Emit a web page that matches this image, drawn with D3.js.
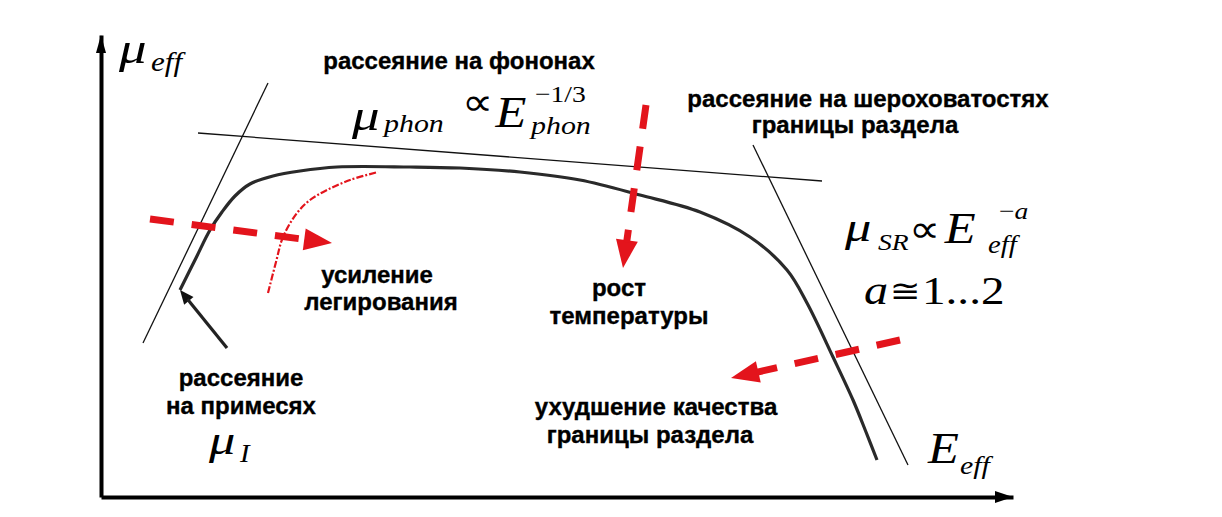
<!DOCTYPE html>
<html>
<head>
<meta charset="utf-8">
<script src="https://cdn.jsdelivr.net/npm/d3@7"></script>
<style>
  body { margin: 0; background: #fff; }
  .ru { font-family: "Liberation Sans", Arial, sans-serif; font-weight: bold; font-size: 24px; fill: #000; stroke: #000; stroke-width: 0.35px; }
  .m { font-family: "Liberation Serif", "Times New Roman", serif; font-style: italic; fill: #000; }
  .mu { font-family: "Liberation Serif", "DejaVu Serif", serif; fill: #000; }
  .sym { font-family: "DejaVu Sans", sans-serif; fill: #000; }
</style>
</head>
<body>
<div id="chart"></div>
<script>
// схема: подвижность от эффективного поля (значения в условных единицах от начала осей)

// основная кривая mu_eff(E_eff)
const curveE  = [79, 95, 109, 121, 134, 149, 172, 199, 236, 309, 359, 419, 479, 539, 599, 649, 686, 706, 732, 752, 765, 776];
const curveMu = [207, 239, 267, 285, 301, 313, 321, 326, 330, 330, 329, 325, 317, 302, 285, 260, 227, 194, 140, 97, 65, 37];

// асимптоты механизмов рассеяния
const phononLine   = [[97, 364], [721, 316]];
const impurityLine = [[42, 154], [167, 414]];
const roughLine    = [[652, 352], [807, 32]];

// стрелка-указатель к примесям
const impurityPointer = [[126, 149], [79, 207]];

// красные стрелки (пунктир + наконечник)
const dopingArrow  = [[49, 278], [231, 254]];
const tempArrow    = [[545, 392], [522, 229]];
const qualityArrow = [[799, 157], [630, 119]];

// штрихпунктирная кривая при легировании
const dopingE  = [167, 175, 182, 196, 209, 226, 249, 277];
const dopingMu = [204, 235, 260, 284, 297, 307, 317, 325];

// подписи
const labelPhonon  = ["рассеяние на фононах"];
const labelRough   = ["рассеяние на шероховатостях", "границы раздела"];
const labelDoping  = ["усиление", "легирования"];
const labelTemp    = ["рост", "температуры"];
const labelImpur   = ["рассеяние", "на примесях"];
const labelQuality = ["ухудшение качества", "границы раздела"];

const width = 1222, height = 517;
const red = "#e3141c";

const svg = d3.select("#chart").append("svg")
    .attr("width", width)
    .attr("height", height);

const x = d3.scaleLinear().domain([0, 912]).range([101, 1013]);
const y = d3.scaleLinear().domain([0, 462]).range([497, 35]);

// оси
svg.append("g")
    .attr("transform", `translate(0, ${y(0)})`)
    .call(d3.axisBottom(x).tickValues([]).tickSizeOuter(0))
    .select(".domain").attr("stroke", "#000").attr("stroke-width", 4);

svg.append("g")
    .attr("transform", `translate(${x(0)}, 0)`)
    .call(d3.axisLeft(y).tickValues([]).tickSizeOuter(0))
    .select(".domain").attr("stroke", "#000").attr("stroke-width", 4);

// наконечники
function head(tip, from, len, half, color) {
    const dx = tip[0] - from[0], dy = tip[1] - from[1];
    const d = Math.hypot(dx, dy), ux = dx / d, uy = dy / d;
    const bx = tip[0] - ux * len, by = tip[1] - uy * len;
    const pts = [tip, [bx - uy * half, by + ux * half], [bx + uy * half, by - ux * half]];
    svg.append("polygon")
        .attr("points", pts.map(p => p.join(",")).join(" "))
        .attr("fill", color);
    return [bx + ux * 2, by + uy * 2];
}
head([x(912), y(0)], [x(0), y(0)], 18, 6, "#000");
head([x(0), y(462)], [x(0), y(0)], 18, 5, "#000");

// тонкие асимптоты
const seg = d3.line().x(d => x(d[0])).y(d => y(d[1]));
[phononLine, impurityLine, roughLine].forEach(l => {
    svg.append("path")
        .attr("d", seg(l))
        .attr("fill", "none")
        .attr("stroke", "#111")
        .attr("stroke-width", 1.3);
});

// основная кривая
const curve = d3.line()
    .x(d => x(d[0])).y(d => y(d[1]))
    .curve(d3.curveCatmullRom.alpha(0.5));

svg.append("path")
    .datum(curveE.map((e, i) => [e, curveMu[i]]))
    .attr("d", curve)
    .attr("fill", "none")
    .attr("stroke", "#2a2a2a")
    .attr("stroke-width", 3.2);

// указатель к примесям
const pTip = [x(impurityPointer[1][0]), y(impurityPointer[1][1])];
const pFrom = [x(impurityPointer[0][0]), y(impurityPointer[0][1])];
const pBase = head(pTip, pFrom, 14, 6, "#111");
svg.append("line")
    .attr("x1", pFrom[0]).attr("y1", pFrom[1])
    .attr("x2", pBase[0]).attr("y2", pBase[1])
    .attr("stroke", "#222").attr("stroke-width", 3.2);

// штрихпунктир легирования
svg.append("path")
    .datum(dopingE.map((e, i) => [e, dopingMu[i]]))
    .attr("d", curve)
    .attr("fill", "none")
    .attr("stroke", red)
    .attr("stroke-width", 2.2)
    .attr("stroke-dasharray", "7,2,2,2");

// красные пунктирные стрелки
function redArrow(a) {
    const from = [x(a[0][0]), y(a[0][1])];
    const tip = [x(a[1][0]), y(a[1][1])];
    const base = head(tip, from, 28, 11, red);
    svg.append("line")
        .attr("x1", from[0]).attr("y1", from[1])
        .attr("x2", base[0]).attr("y2", base[1])
        .attr("stroke", red)
        .attr("stroke-width", 7)
        .attr("stroke-dasharray", "24,18");
}
[dopingArrow, tempArrow, qualityArrow].forEach(redArrow);

// русские подписи
function block(lines, pos) {
    lines.forEach((t, i) => {
        svg.append("text")
            .attr("class", "ru")
            .attr("x", pos[i][0]).attr("y", pos[i][1])
            .attr("text-anchor", "middle")
            .text(t);
    });
}
block(labelPhonon, [[459, 69]]);
block(labelRough, [[868, 107], [855, 133]]);
block(labelDoping, [[377, 283], [381, 310]]);
block(labelTemp, [[619, 296], [629, 324]]);
block(labelImpur, [[241, 386], [241, 414]]);
block(labelQuality, [[656, 415], [650, 443]]);

// формулы (шрифт растянут по горизонтали, как в оригинале)
function mt(t, px, py, size, cls, sx) {
    return svg.append("text")
        .attr("class", cls || "m")
        .attr("transform", `translate(${px},${py}) scale(${sx || 1.15},1)`)
        .attr("font-size", size)
        .text(t);
}
// знак пропорциональности и E в одной строке
function propE(px, py, dyE, dxE) {
    const t = mt("∝", px, py, 38, "sym");
    t.append("tspan")
        .attr("class", "m")
        .attr("font-size", 44)
        .attr("dx", dxE).attr("dy", dyE)
        .text("E");
}
// mu_eff
mt("μ", 119, 63, 44, "m", 1.25);
mt("eff", 151, 71, 27);
// mu_phon ~ E_phon^-1/3
mt("μ", 352, 130, 44, "m", 1.25);
mt("phon", 384, 132, 26);
propE(462, 115, 12, 2);
mt("−1/3", 535, 102, 24, "mu");
mt("phon", 531, 134, 26);
// mu_SR ~ E_eff^-a
mt("μ", 845, 241, 42, "m", 1.25);
mt("SR", 878, 250, 24);
propE(909, 242, 1, 4);
const sup = mt("−", 999, 219, 24, "mu");
sup.append("tspan").attr("font-style", "italic").text("a");
mt("eff", 988, 253, 25);
// a ~ 1...2
mt("a", 864, 304, 42);
mt("≅", 890, 302, 32, "sym");
mt("1...2", 922, 304, 41, "mu");
// mu_I
mt("μ", 209, 454, 42, "m", 1.25);
mt("I", 240, 462, 25);
// E_eff
mt("E", 928, 463, 44);
mt("eff", 960, 474, 26);
</script>
</body>
</html>
